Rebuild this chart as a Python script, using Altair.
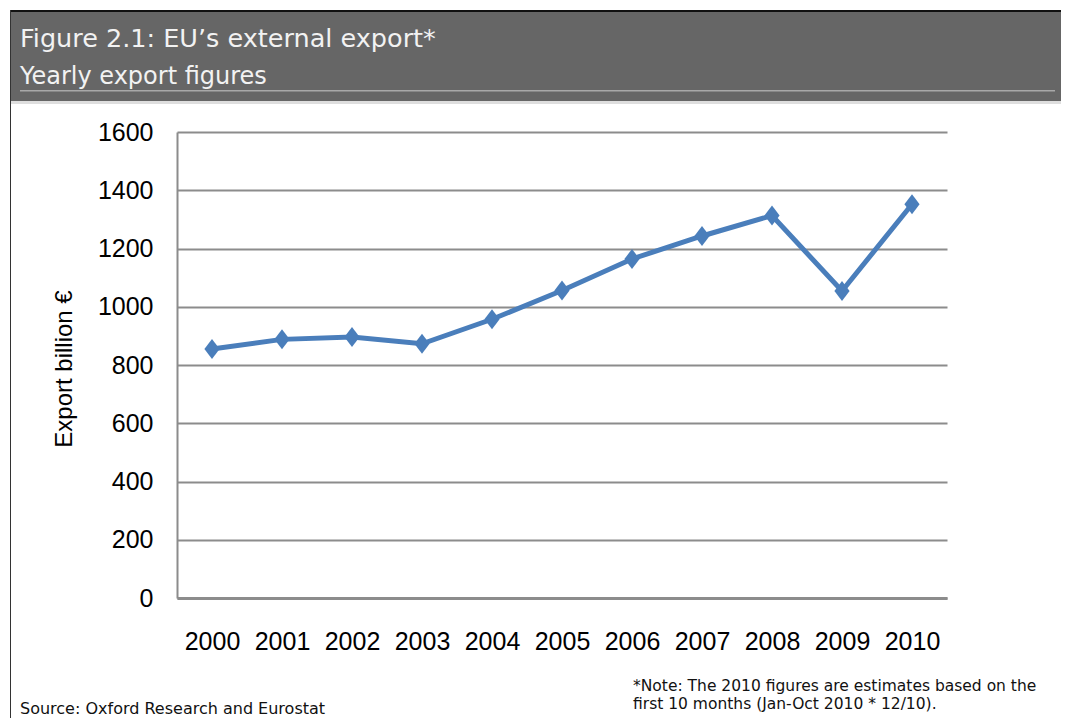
import altair as alt
import pandas as pd

# ---- data ----
years = ["2000", "2001", "2002", "2003", "2004", "2005",
         "2006", "2007", "2008", "2009", "2010"]
exports = [855, 888, 896, 873, 957, 1056, 1164, 1243, 1313, 1054, 1352]
y_ticks = [0, 200, 400, 600, 800, 1000, 1200, 1400, 1600]

title_text = "Figure 2.1: EU\u2019s external export*"
subtitle_text = "Yearly export figures"
y_title = "Export billion \u20ac"
source_text = "Source: Oxford Research and Eurostat"
note_lines = ["*Note: The 2010 figures are estimates based on the",
              "first 10 months (Jan-Oct 2010 * 12/10)."]

df = pd.DataFrame({"year": years, "export": exports})

# ---- layout (page pixels) ----
X0, Y0 = 177, 132          # plot origin on the page
W, H = 770, 466            # plot area
CW, CH = 1053, 710         # whole canvas (fits the window with 8px margins)
def px(v): return v - X0
def py(v): return v - Y0

BLUE = "#4a7ebb"
GRID = "#8c8c8c"
LABEL_FONT = "Liberation Sans"
HEAD_FONT = "DejaVu Sans"

one = pd.DataFrame({"k": [0]})

xenc = alt.X("year:N", sort=years,
             scale=alt.Scale(type="point", padding=0.5),
             axis=alt.Axis(title=None, labelFont=LABEL_FONT, labelFontSize=25,
                           labelColor="black", labelPadding=31, ticks=False,
                           domainColor=GRID, domainWidth=3, labelAngle=0,
                           grid=False, labelBaseline="top"))
yenc = alt.Y("export:Q",
             scale=alt.Scale(domain=[0, 1600], nice=False, zero=True),
             axis=alt.Axis(values=y_ticks, format="d", title=None,
                           labelFont=LABEL_FONT, labelFontSize=25,
                           labelColor="black", labelPadding=24,
                           ticks=False, domainColor=GRID, domainWidth=2,
                           grid=True, gridColor=GRID, gridWidth=2))

line = alt.Chart(df).mark_line(color=BLUE, strokeWidth=5).encode(x=xenc, y=yenc)
points = alt.Chart(df).mark_point(
    shape="M0,-1.25L0.95,0L0,1.25L-0.95,0Z", filled=True, color=BLUE,
    opacity=1, size=256).encode(x=xenc, y=yenc)

# header band and frame
band = alt.Chart(one).mark_rect(color="#666666").encode(
    x=alt.value(px(10)), x2=alt.value(px(CW + 8)),
    y=alt.value(py(11)), y2=alt.value(py(101)))
strip = alt.Chart(one).mark_rect(color="#dedede").encode(
    x=alt.value(px(11)), x2=alt.value(px(CW + 8)),
    y=alt.value(py(101)), y2=alt.value(py(104)))
top_border = alt.Chart(one).mark_rect(color="#111111").encode(
    x=alt.value(px(10)), x2=alt.value(px(CW + 8)),
    y=alt.value(py(10)), y2=alt.value(py(12)))
left_border = alt.Chart(one).mark_rect(color="#333333").encode(
    x=alt.value(px(10)), x2=alt.value(px(11)),
    y=alt.value(py(10)), y2=alt.value(py(CH + 8)))
underline = alt.Chart(one).mark_rect(color="#a8a8a8").encode(
    x=alt.value(px(20)), x2=alt.value(px(1055)),
    y=alt.value(py(90)), y2=alt.value(py(91.5)))

title = alt.Chart(one).mark_text(
    text=title_text, font=HEAD_FONT, fontSize=25.5, color="#f2f2f2",
    align="left", baseline="alphabetic").encode(
    x=alt.value(px(20)), y=alt.value(py(47)))
subtitle = alt.Chart(one).mark_text(
    text=subtitle_text, font=HEAD_FONT, fontSize=24, color="#f2f2f2",
    align="left", baseline="alphabetic").encode(
    x=alt.value(px(20)), y=alt.value(py(84)))

ytitle = alt.Chart(one).mark_text(
    text=y_title, font=LABEL_FONT, fontSize=24, color="black", angle=270,
    align="center", baseline="middle").encode(
    x=alt.value(px(65)), y=alt.value(py(369)))

source = alt.Chart(one).mark_text(
    text=source_text, font=HEAD_FONT, fontSize=16, color="#111111",
    align="left", baseline="alphabetic").encode(
    x=alt.value(px(20)), y=alt.value(py(714)))
note1 = alt.Chart(one).mark_text(
    text=note_lines[0], font=HEAD_FONT, fontSize=15.5, color="#111111",
    align="left", baseline="alphabetic").encode(
    x=alt.value(px(633)), y=alt.value(py(691)))
note2 = alt.Chart(one).mark_text(
    text=note_lines[1], font=HEAD_FONT, fontSize=15.5, color="#111111",
    align="left", baseline="alphabetic").encode(
    x=alt.value(px(633)), y=alt.value(py(709)))

chart = alt.layer(
    band, strip, top_border, left_border, underline, title, subtitle,
    line, points, ytitle, source, note1, note2
).properties(
    width=W, height=H,
    autosize=alt.AutoSizeParams(type="none"),
    padding={"left": X0 - 8, "top": Y0 - 8,
             "right": CW - (X0 - 8) - W, "bottom": CH - (Y0 - 8) - H},
    background="white",
).configure_view(stroke=None)

chart.save("out.html", embed_options={"renderer": "svg", "actions": False})
